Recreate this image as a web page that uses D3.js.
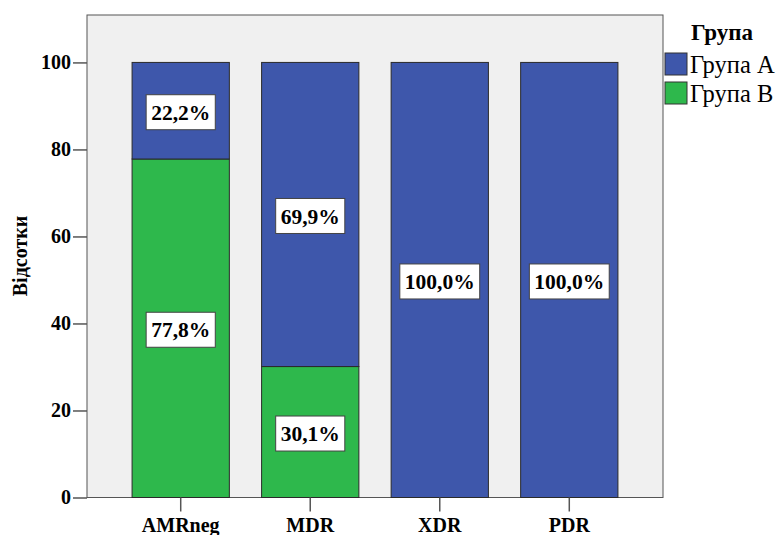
<!DOCTYPE html>
<html>
<head>
<meta charset="utf-8">
<script src="https://cdn.jsdelivr.net/npm/d3@7"></script>
</head>
<body style="margin:0">
<svg id="chart" width="780" height="535" font-family="Liberation Serif" font-weight="bold"></svg>
<script>
// Categories and stacked percentages per group
const categories = ["AMRneg", "MDR", "XDR", "PDR"];
const groupNames = ["Група А", "Група В"];
const groupA = [22.2, 69.9, 100.0, 100.0];
const groupB = [77.8, 30.1, 0, 0];
const yTicks = [0, 20, 40, 60, 80, 100];
const colors = ["#3e57ab", "#2eb84c"];

const FONT = "Liberation Serif";
const svg = d3.select("#chart");
const plot = { left: 87, top: 15, right: 663, bottom: 497.5 };

const x = d3.scaleBand()
  .domain(categories)
  .range([plot.left, plot.right])
  .paddingInner(0.249)
  .paddingOuter(0.348);

const y = d3.scaleLinear()
  .domain([0, 110.9])
  .range([plot.bottom, plot.top]);

// Plot background
svg.append("rect")
  .attr("x", plot.left).attr("y", plot.top)
  .attr("width", plot.right - plot.left)
  .attr("height", plot.bottom - plot.top)
  .attr("fill", "#f0f0f0")
  .attr("stroke", "#555").attr("stroke-width", 1);

// Stack: Група В at the bottom, Група А on top
const rows = categories.map((c, i) => ({ cat: c, A: groupA[i], B: groupB[i] }));
const series = d3.stack().keys(["B", "A"])(rows);
const colorFor = { A: colors[0], B: colors[1] };

svg.append("g").selectAll("g")
  .data(series).join("g")
  .attr("fill", d => colorFor[d.key])
  .selectAll("rect")
  .data(d => d.filter(s => s[1] - s[0] > 0))
  .join("rect")
  .attr("x", d => x(d.data.cat))
  .attr("width", x.bandwidth())
  .attr("y", d => y(d[1]))
  .attr("height", d => y(d[0]) - y(d[1]))
  .attr("stroke", "#2a2a2a")
  .attr("stroke-width", 1);

// Value labels in white boxes
const fmt = v => v.toFixed(1).replace(".", ",") + "%";
const labels = [];
series.forEach(s => s.forEach(d => {
  if (d[1] - d[0] > 0) labels.push({ cat: d.data.cat, v: d[1] - d[0], mid: (d[0] + d[1]) / 2 });
}));

svg.append("g").selectAll("g").data(labels).join("g")
  .attr("transform", d => `translate(${x(d.cat) + x.bandwidth() / 2},${y(d.mid) + 1.5})`)
  .each(function (d) {
    const g = d3.select(this);
    const t = g.append("text")
      .attr("text-anchor", "middle")
      .attr("dy", "0.35em")
      .attr("font-family", FONT)
      .attr("font-weight", "bold")
      .attr("font-size", 21.5)
      .attr("fill", "#000")
      .text(fmt(d.v));
    const bb = t.node().getBBox();
    g.insert("rect", "text")
      .attr("x", bb.x - 5).attr("y", -17.5)
      .attr("width", bb.width + 10).attr("height", 35)
      .attr("fill", "#fff")
      .attr("stroke", "#444").attr("stroke-width", 1);
  });

function styleAxis(g) {
  g.attr("font-family", FONT).attr("font-weight", "bold");
  g.select(".domain").remove();
  g.selectAll("line").attr("stroke", "#555").attr("stroke-width", 1.5);
  g.selectAll("text").attr("font-size", 20).attr("font-family", FONT)
    .attr("font-weight", "bold").attr("fill", "#000");
}

// Y axis
svg.append("g")
  .attr("transform", `translate(${plot.left},0)`)
  .call(d3.axisLeft(y).tickValues(yTicks).tickSize(14).tickPadding(2))
  .call(styleAxis);

// X axis
svg.append("g")
  .attr("transform", `translate(0,${plot.bottom})`)
  .call(d3.axisBottom(x).tickSize(14).tickPadding(6))
  .call(styleAxis);

// Y axis title
svg.append("text")
  .attr("transform", `translate(27,256) rotate(-90)`)
  .attr("text-anchor", "middle")
  .attr("font-family", FONT).attr("font-weight", "bold")
  .attr("font-size", 20)
  .text("Відсотки");

// Legend
svg.append("text").attr("x", 691).attr("y", 40)
  .attr("font-family", FONT).attr("font-weight", "bold")
  .attr("font-size", 23).text("Група");
const leg = svg.append("g").selectAll("g").data(groupNames).join("g")
  .attr("transform", (d, i) => `translate(665,${53 + i * 29})`);
leg.append("rect")
  .attr("width", 22).attr("height", 22)
  .attr("fill", (d, i) => colors[i])
  .attr("stroke", "#333").attr("stroke-width", 1);
leg.append("text")
  .attr("x", 25).attr("y", 19.5)
  .attr("font-family", FONT).attr("font-weight", "normal")
  .attr("font-size", 24.5)
  .text(d => d);
</script>
</body>
</html>
